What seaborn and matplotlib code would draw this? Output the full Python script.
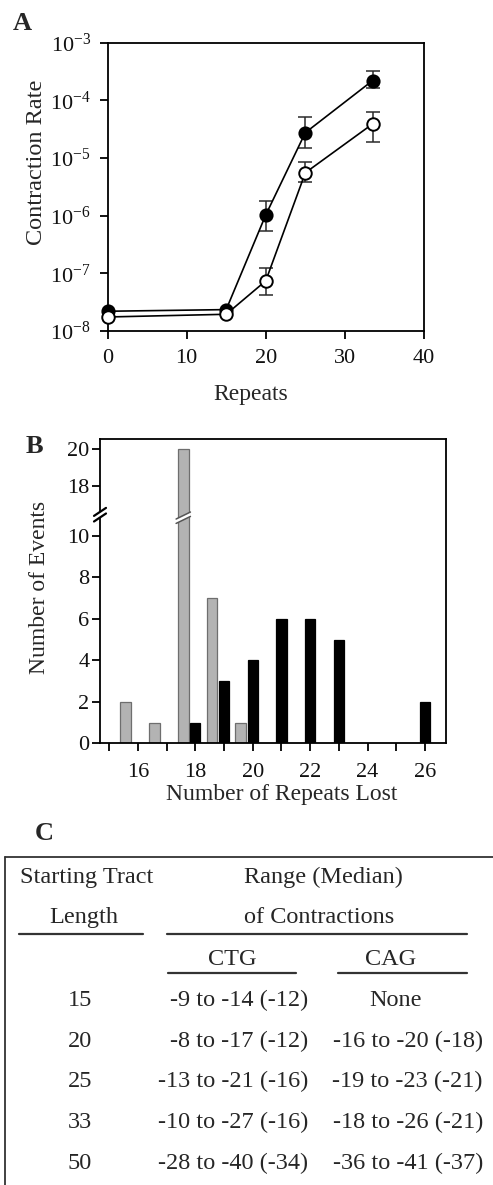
import numpy as np
import pandas as pd
import matplotlib
matplotlib.use("Agg")
import matplotlib.pyplot as plt
import seaborn as sns
from matplotlib.ticker import NullLocator, FixedLocator
from matplotlib.transforms import blended_transform_factory
from matplotlib.patches import Polygon
from matplotlib.lines import Line2D

# ---------------- Panel A data ----------------
repeats = [0, 15, 20, 25, 33.5]
rate_filled = [2.2e-8, 2.35e-8, 1.03e-6, 2.75e-5, 2.2e-4]
filled_lo = [np.nan, np.nan, 5.5e-7, 1.48e-5, 1.62e-4]
filled_hi = [np.nan, np.nan, 1.82e-6, 5.1e-5, 3.27e-4]
rate_open = [1.75e-8, 1.95e-8, 7.4e-8, 5.55e-6, 3.9e-5]
open_lo = [np.nan, np.nan, 4.2e-8, 3.8e-6, 1.92e-5]
open_hi = [np.nan, np.nan, 1.22e-7, 8.4e-6, 6.35e-5]
a_xticks = [0, 10, 20, 30, 40]

# ---------------- Panel B data ----------------
gray_lost = [16, 17, 18, 19, 20]
gray_counts = [2, 1, 20, 7, 1]
black_lost = [18, 19, 20, 21, 22, 23, 26]
black_counts = [1, 3, 4, 6, 6, 5, 2]
b_yticks = [0, 2, 4, 6, 8, 10, 18, 20]
b_xticks = list(range(15, 27))

# ---------------- Panel C data ----------------
tract_lengths = ["15", "20", "25", "33", "50"]
ctg_ranges = ["-9 to -14 (-12)", "-8 to -17 (-12)", "-13 to -21 (-16)",
              "-10 to -27 (-16)", "-28 to -40 (-34)"]
cag_ranges = ["None", "-16 to -20 (-18)", "-19 to -23 (-21)",
              "-18 to -26 (-21)", "-36 to -41 (-37)"]

sns.set_theme(style="ticks")
plt.rcParams['font.family'] = ['Liberation Serif', 'DejaVu Serif']
plt.rcParams['mathtext.fontset'] = 'custom'
plt.rcParams['mathtext.rm'] = 'Liberation Serif'
plt.rcParams['mathtext.it'] = 'Liberation Serif:italic'
plt.rcParams['mathtext.bf'] = 'Liberation Serif:bold'

W, H = 493, 1185
fig = plt.figure(figsize=(W / 100, H / 100), dpi=100)
fig.patch.set_facecolor('white')


def rect(l, t, r, b):
    return [l / W, 1 - b / H, (r - l) / W, (b - t) / H]


def fx(px):
    return px / W


def fy(py):
    return 1 - py / H


LW = 1.3
TICK_FS = 16
LABEL_FS = 17

# ================= Panel A =================
axA = fig.add_axes(rect(107.5, 42.7, 424, 331))
for s in axA.spines.values():
    s.set_linewidth(LW)
    s.set_color('black')

dfA = pd.DataFrame({"repeats": repeats, "filled": rate_filled, "open": rate_open})

xs = np.array(repeats, float)
for vals, lo, hi in [(rate_filled, filled_lo, filled_hi), (rate_open, open_lo, open_hi)]:
    v = np.array(vals); l = np.array(lo); h = np.array(hi)
    m = np.isfinite(l)
    axA.errorbar(xs[m], v[m], yerr=[v[m] - l[m], h[m] - v[m]], fmt='none',
                 ecolor='#2a2a2a', elinewidth=1.1, capsize=5.3, capthick=1.1, zorder=2)

sns.lineplot(data=dfA, x="repeats", y="filled", ax=axA, color='black', lw=1.2,
             marker='o', markersize=9, markerfacecolor='black', markeredgecolor='black',
             markeredgewidth=1.2, zorder=3, errorbar=None, clip_on=False)
sns.lineplot(data=dfA, x="repeats", y="open", ax=axA, color='black', lw=1.2,
             marker='o', markersize=9, markerfacecolor='white', markeredgecolor='black',
             markeredgewidth=1.4, zorder=4, errorbar=None, clip_on=False)

axA.set_yscale('log')
axA.set_ylim(1e-8, 1e-3)
axA.set_xlim(0, 40)
axA.set_xticks(a_xticks)
axA.set_yticks([1e-8, 1e-7, 1e-6, 1e-5, 1e-4, 1e-3])
axA.yaxis.set_minor_locator(NullLocator())
axA.tick_params(axis='both', direction='out', length=6, width=LW, color='black',
                labelsize=TICK_FS, labelcolor='#111111')
axA.tick_params(axis='y', pad=6)
axA.tick_params(axis='x', pad=7)
axA.set_xlabel("Repeats", fontsize=LABEL_FS, va='baseline')
axA.xaxis.set_label_coords((250.8 - 107.5) / 316.5, (331 - 400) / 288.3)
axA.set_ylabel("Contraction Rate", fontsize=17.5, va='baseline')
axA.yaxis.set_label_coords((42 - 107.5) / 316.5, (331 - 162) / 288.3)

# ================= Panel B =================
axB = fig.add_axes(rect(100, 439.3, 446, 743.3))
for s in axB.spines.values():
    s.set_linewidth(LW)
    s.set_color('black')

gray_pos = np.array(gray_lost, float) - 0.42
sns.barplot(x=gray_pos, y=gray_counts, native_scale=True, width=0.38, ax=axB,
            color='#b3b3b3', edgecolor='#6e6e6e', linewidth=0.9, saturation=1,
            errorbar=None, zorder=2)
sns.barplot(x=np.array(black_lost, float), y=black_counts, native_scale=True,
            width=0.36, ax=axB, color='black', edgecolor='black', linewidth=0.9,
            saturation=1, errorbar=None, zorder=2)


def fwd(y):
    y = np.asarray(y, float)
    return np.where(y <= 11, y,
                    np.where(y <= 16.5, 11 + (y - 11) * 0.01, 11.055 + (y - 16.5) * 0.9))


def inv(u):
    u = np.asarray(u, float)
    return np.where(u <= 11, u,
                    np.where(u <= 11.055, 11 + (u - 11) / 0.01, 16.5 + (u - 11.055) / 0.9))


axB.set_yscale('function', functions=(fwd, inv))
axB.set_ylim(0, 20.51)
axB.set_xlim(14.68, 26.73)
axB.yaxis.set_major_locator(FixedLocator(b_yticks))
axB.yaxis.set_minor_locator(NullLocator())
axB.set_yticklabels([str(t) for t in b_yticks])
axB.set_xticks(b_xticks)
axB.set_xticklabels([str(t) if t % 2 == 0 else '' for t in b_xticks])
axB.tick_params(axis='both', direction='out', length=5.5, width=LW, color='black',
                labelsize=TICK_FS, labelcolor='#111111')
axB.tick_params(axis='y', pad=2)
axB.tick_params(axis='x', pad=9)
axB.set_xlabel("Number of Repeats Lost", fontsize=LABEL_FS, va='baseline')
axB.xaxis.set_label_coords((282 - 100) / 346, (743.3 - 800) / 304)
axB.set_ylabel("Number of Events", fontsize=LABEL_FS, va='baseline')
axB.yaxis.set_label_coords((45 - 100) / 346, (743.3 - 587.5) / 304)

# axis break marks
pxx = 1 / 346.0
pxy = 1 / 304.0
yb = 0.752
d = 2.8 * pxy
s = 4.0 * pxy
hw = 6 * pxx
poly = Polygon([(-hw, yb - d - s), (hw, yb - d + s), (hw, yb + d + s), (-hw, yb + d - s)],
               closed=True, transform=axB.transAxes, facecolor='white', edgecolor='none',
               clip_on=False, zorder=5)
axB.add_patch(poly)
for sgn in (-1, 1):
    axB.add_line(Line2D([-hw, hw], [yb + sgn * d - s, yb + sgn * d + s], transform=axB.transAxes,
                        color='black', lw=1.6, clip_on=False, zorder=6))

trB = blended_transform_factory(axB.transData, axB.transAxes)
ybb = 0.742
xc = gray_pos[gray_lost.index(18)]
hb = 0.25
d2 = 2.2 * pxy
s2 = 3.5 * pxy
poly2 = Polygon([(xc - hb, ybb - d2 - s2), (xc + hb, ybb - d2 + s2), (xc + hb, ybb + d2 + s2),
                 (xc - hb, ybb + d2 - s2)], closed=True, transform=trB, facecolor='white',
                edgecolor='none', zorder=5)
axB.add_patch(poly2)
for sgn in (-1, 1):
    axB.add_line(Line2D([xc - hb, xc + hb], [ybb + sgn * d2 - s2, ybb + sgn * d2 + s2],
                        transform=trB, color='#555555', lw=1.1, zorder=6))

# ================= Panel labels =================
fig.text(fx(13), fy(30), "A", fontsize=19, fontweight='bold', ha='left', va='baseline')
fig.text(fx(26), fy(453), "B", fontsize=19, fontweight='bold', ha='left', va='baseline')
fig.text(fx(35), fy(840), "C", fontsize=19, fontweight='bold', ha='left', va='baseline')

# ================= Panel C (table) =================
TFS = 17.5
fig.add_artist(Line2D([fx(5), fx(493)], [fy(856.7), fy(856.7)], color='#333333', lw=1.3))
fig.add_artist(Line2D([fx(5), fx(5)], [fy(856.7), fy(1185)], color='#333333', lw=1.3))

fig.text(fx(86.7), fy(883.3), "Starting Tract", fontsize=TFS, ha='center', va='baseline')
fig.text(fx(323), fy(883.3), "Range (Median)", fontsize=TFS, ha='center', va='baseline')
fig.text(fx(84), fy(923), "Length", fontsize=TFS, ha='center', va='baseline')
fig.text(fx(319), fy(923), "of Contractions", fontsize=TFS, ha='center', va='baseline')
fig.add_artist(Line2D([fx(19), fx(143)], [fy(934), fy(934)], color='#333333', lw=1.6))
fig.add_artist(Line2D([fx(167), fx(467)], [fy(934), fy(934)], color='#333333', lw=1.6))
fig.text(fx(232), fy(965), "CTG", fontsize=TFS, ha='center', va='baseline')
fig.text(fx(391), fy(965), "CAG", fontsize=TFS, ha='center', va='baseline')
fig.add_artist(Line2D([fx(168), fx(296)], [fy(972.7), fy(972.7)], color='#333333', lw=1.6))
fig.add_artist(Line2D([fx(338), fx(467)], [fy(972.7), fy(972.7)], color='#333333', lw=1.6))

row_base = [1006, 1046.7, 1087.3, 1128.3, 1169.3]
for yb_, tl, ctg, cag in zip(row_base, tract_lengths, ctg_ranges, cag_ranges):
    fig.text(fx(80), fy(yb_), tl, fontsize=TFS, ha='center', va='baseline')
    fig.text(fx(308), fy(yb_), ctg, fontsize=TFS, ha='right', va='baseline')
    if cag == "None":
        fig.text(fx(396), fy(yb_), cag, fontsize=TFS, ha='center', va='baseline')
    else:
        fig.text(fx(483), fy(yb_), cag, fontsize=TFS, ha='right', va='baseline')

fig.savefig("out.png", dpi=100, facecolor='white')
